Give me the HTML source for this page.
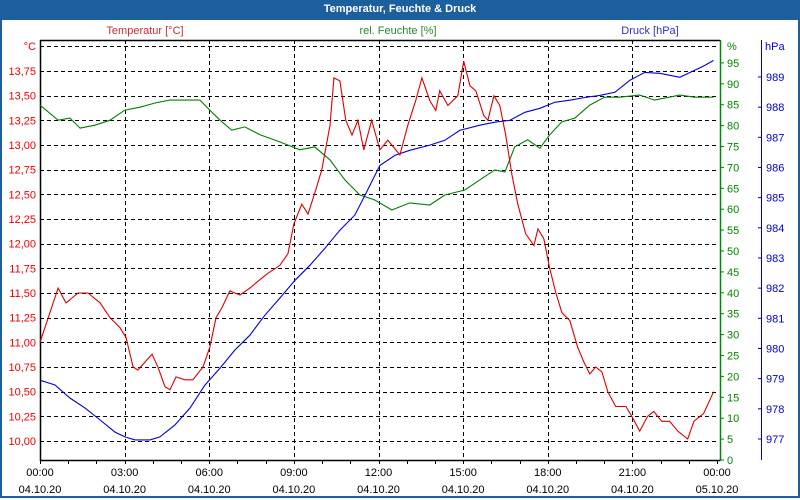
<!DOCTYPE html>
<html><head><meta charset="utf-8"><style>
body{margin:0;width:800px;height:500px;overflow:hidden;background:#fff;font-family:"Liberation Sans",sans-serif}
#frame{position:absolute;left:0;top:0;width:796px;height:496px;border:2px solid #1b5f9c;border-top:none}
#titlebar{position:absolute;left:0;top:0;width:800px;height:20px;background:#1b5f9c;color:#fff;font:bold 11px "Liberation Sans",sans-serif;text-align:center;line-height:19px}
svg{position:absolute;left:0;top:0}
</style></head><body>
<div id="frame"></div>
<div id="titlebar">Temperatur, Feuchte &amp; Druck</div>
<svg id="c" width="800" height="500"></svg>
<script>
const tempTimes=[0,.64,.92,1.35,1.70,2.13,2.48,2.83,3.05,3.30,3.47,3.72,3.97,4.18,4.43,4.61,4.82,5.14,5.42,5.78,6.02,6.24,6.45,6.73,7.09,7.44,7.73,8.08,8.50,8.79,9.00,9.28,9.50,9.78,9.99,10.28,10.42,10.63,10.84,11.06,11.27,11.48,11.76,12.05,12.33,12.76,13.04,13.32,13.54,13.82,14.03,14.17,14.46,14.81,15.02,15.24,15.45,15.73,15.88,16.09,16.30,16.51,16.73,16.94,17.22,17.51,17.65,17.86,18.07,18.29,18.50,18.78,19.06,19.28,19.49,19.70,19.92,20.13,20.41,20.77,20.98,21.26,21.54,21.76,22.04,22.32,22.61,22.96,23.18,23.53,23.88];
const tempValues=[11.00,11.55,11.40,11.50,11.50,11.40,11.25,11.15,11.05,10.75,10.72,10.80,10.88,10.75,10.55,10.52,10.65,10.62,10.62,10.75,10.95,11.25,11.35,11.52,11.48,11.55,11.62,11.70,11.78,11.90,12.20,12.40,12.30,12.55,12.75,13.20,13.68,13.65,13.25,13.10,13.25,12.95,13.25,12.95,13.05,12.90,13.20,13.45,13.68,13.45,13.35,13.55,13.40,13.50,13.85,13.60,13.55,13.30,13.25,13.50,13.40,13.10,12.70,12.40,12.10,11.98,12.15,12.05,11.75,11.50,11.30,11.22,10.95,10.80,10.68,10.75,10.70,10.50,10.35,10.35,10.25,10.10,10.25,10.30,10.20,10.20,10.10,10.02,10.20,10.28,10.50];
const humTimes=[0,.64,1.06,1.42,1.95,2.48,3.01,3.54,4.08,4.61,5.14,5.67,6.02,6.38,6.80,7.26,7.80,8.50,9.21,9.74,10.28,10.81,11.34,11.87,12.47,13.11,13.82,14.35,15.06,15.59,16.12,16.48,16.83,17.29,17.72,18.07,18.50,18.96,19.49,20.02,20.55,21.26,21.79,22.68,23.21,23.88];
const humValues=[84.9,81.3,81.8,79.4,80.1,81.3,83.7,84.4,85.4,86.1,86.1,86.1,83.7,81.3,78.9,79.7,77.8,76.1,74.2,74.9,71.8,67.0,63.4,62.2,59.8,61.5,61.0,63.4,64.6,67.0,69.4,68.9,74.9,76.6,74.6,77.8,80.9,81.8,84.9,86.8,86.8,87.3,86.1,87.3,86.8,86.8];
const presTimes=[0,.53,1.06,1.59,2.13,2.66,3.01,3.37,3.90,4.25,4.78,5.32,5.85,6.38,6.91,7.44,7.97,8.50,9.04,9.57,10.10,10.63,11.16,11.52,12.05,12.58,13.11,13.82,14.35,14.88,15.59,16.12,16.65,17.19,17.72,18.25,18.78,19.31,19.84,20.38,20.91,21.44,21.97,22.68,23.21,23.56,23.88];
const presValues=[978.95,978.79,978.36,978.03,977.63,977.23,977.07,976.97,976.97,977.07,977.46,978.03,978.79,979.35,979.95,980.44,981.10,981.67,982.26,982.76,983.32,983.92,984.42,985.08,986.07,986.40,986.57,986.74,986.90,987.23,987.40,987.50,987.56,987.83,987.96,988.16,988.23,988.32,988.39,988.49,988.89,989.15,989.12,988.99,989.22,989.38,989.55];
const tempTicks=["10,00","10,25","10,50","10,75","11,00","11,25","11,50","11,75","12,00","12,25","12,50","12,75","13,00","13,25","13,50","13,75"];
const humTicks=["0","5","10","15","20","25","30","35","40","45","50","55","60","65","70","75","80","85","90","95"];
const presTicks=["977","978","979","980","981","982","983","984","985","986","987","988","989"];
const timeLabels=["00:00","03:00","06:00","09:00","12:00","15:00","18:00","21:00","00:00"];
const dateLabels=["04.10.20","04.10.20","04.10.20","04.10.20","04.10.20","04.10.20","04.10.20","04.10.20","05.10.20"];

const X0=40,X1=718,Y0=40,Y1=460;
const xS=h=>X0+h*(717-X0)/24;
const yT=v=>441-(v-10)*98.67;
const yH=v=>460-v*4.18;
const yP=v=>439-(v-977)*30.17;
const svg=document.getElementById('c');const NS='http://www.w3.org/2000/svg';
function mk(t,a,txt){const e=document.createElementNS(NS,t);for(const k in a)e.setAttribute(k,a[k]);if(txt!==undefined)e.textContent=txt;svg.appendChild(e);return e;}
const F='font-family:"Liberation Sans",sans-serif;font-size:11px';
for(let i=0;i<=16;i++){const v=10+i*0.25;const y=Math.round(yT(v))+.5;
 const g=mk('line',{x1:X0,x2:X1,y1:y,y2:y,stroke:'#000','stroke-dasharray':'4,3'});
 
 }
for(let i=1;i<8;i++){const x=Math.round(xS(i*3))+.5;
 const g=mk('line',{x1:x,x2:x,y1:Y0,y2:Y1,stroke:'#000','stroke-dasharray':'4,3'});
 
 }
let a=mk('line',{x1:40.5,x2:40.5,y1:Y0,y2:Y1+1,stroke:'#000','stroke-width':1.5});


a=mk('line',{x1:X0,x2:720,y1:40.5,y2:40.5,stroke:'#000','stroke-width':1.5});


a=mk('line',{x1:X0,x2:720,y1:460.5,y2:460.5,stroke:'#000','stroke-width':1.5});


a=mk('line',{x1:720.5,x2:720.5,y1:Y0,y2:Y1+1,stroke:'#080','stroke-width':1.5});


a=mk('line',{x1:761.5,x2:761.5,y1:Y0,y2:Y1,stroke:'#00c'});


tempTicks.forEach((t,i)=>{const e=mk('text',{x:36,y:yT(10+i*.25)+4,'text-anchor':'end',fill:'#e00',style:F},t);
 
 });
let e=mk('text',{x:36,y:50,'text-anchor':'end',fill:'#e00',style:F},'°C');


humTicks.forEach((t,i)=>{const y=yH(+t);mk('line',{x1:720,x2:724,y1:y,y2:y,stroke:'#080'});
 const e=mk('text',{x:727,y:y+4,fill:'#080',style:F},t);
 
 });
e=mk('text',{x:727,y:50,fill:'#080',style:F},'%');


presTicks.forEach(t=>{const y=yP(+t);mk('line',{x1:758,x2:762,y1:y,y2:y,stroke:'#00c'});
 const e=mk('text',{x:766,y:y+4,fill:'#00c',style:F},t);
 
 });
e=mk('text',{x:765,y:50,fill:'#00c',style:F},'hPa');


for(let h=0;h<=24;h++){const x=Math.round(xS(h))+.5;mk('line',{x1:x,x2:x,y1:460,y2:464,stroke:'#000'});}
timeLabels.forEach((t,i)=>{const x=xS(i*3);
 let e=mk('text',{x:x,y:476,'text-anchor':'middle',fill:'#000',style:F},t);
 
 
 e=mk('text',{x:x,y:493,'text-anchor':'middle',fill:'#000',style:F},dateLabels[i]);
 
 });
e=mk('text',{x:145,y:34,'text-anchor':'middle',fill:'#c03030',style:F},'Temperatur [°C]');


e=mk('text',{x:398,y:34,'text-anchor':'middle',fill:'#2a8a2a',style:F},'rel. Feuchte [%]');


e=mk('text',{x:650,y:34,'text-anchor':'middle',fill:'#3030c0',style:F},'Druck [hPa]');


function line(ts,vs,yf,col,name){const d=ts.map((t,i)=>(i?'L':'M')+xS(t).toFixed(1)+','+yf(vs[i]).toFixed(1)).join('');
 const p=mk('path',{d:d,fill:'none',stroke:col,'stroke-width':1.1});
 
 }
line(humTimes,humValues,yH,'#008000','humidity-line');
line(presTimes,presValues,yP,'#0000dd','pressure-line');
line(tempTimes,tempValues,yT,'#dd0000','temperature-line');
</script>
</body></html>
